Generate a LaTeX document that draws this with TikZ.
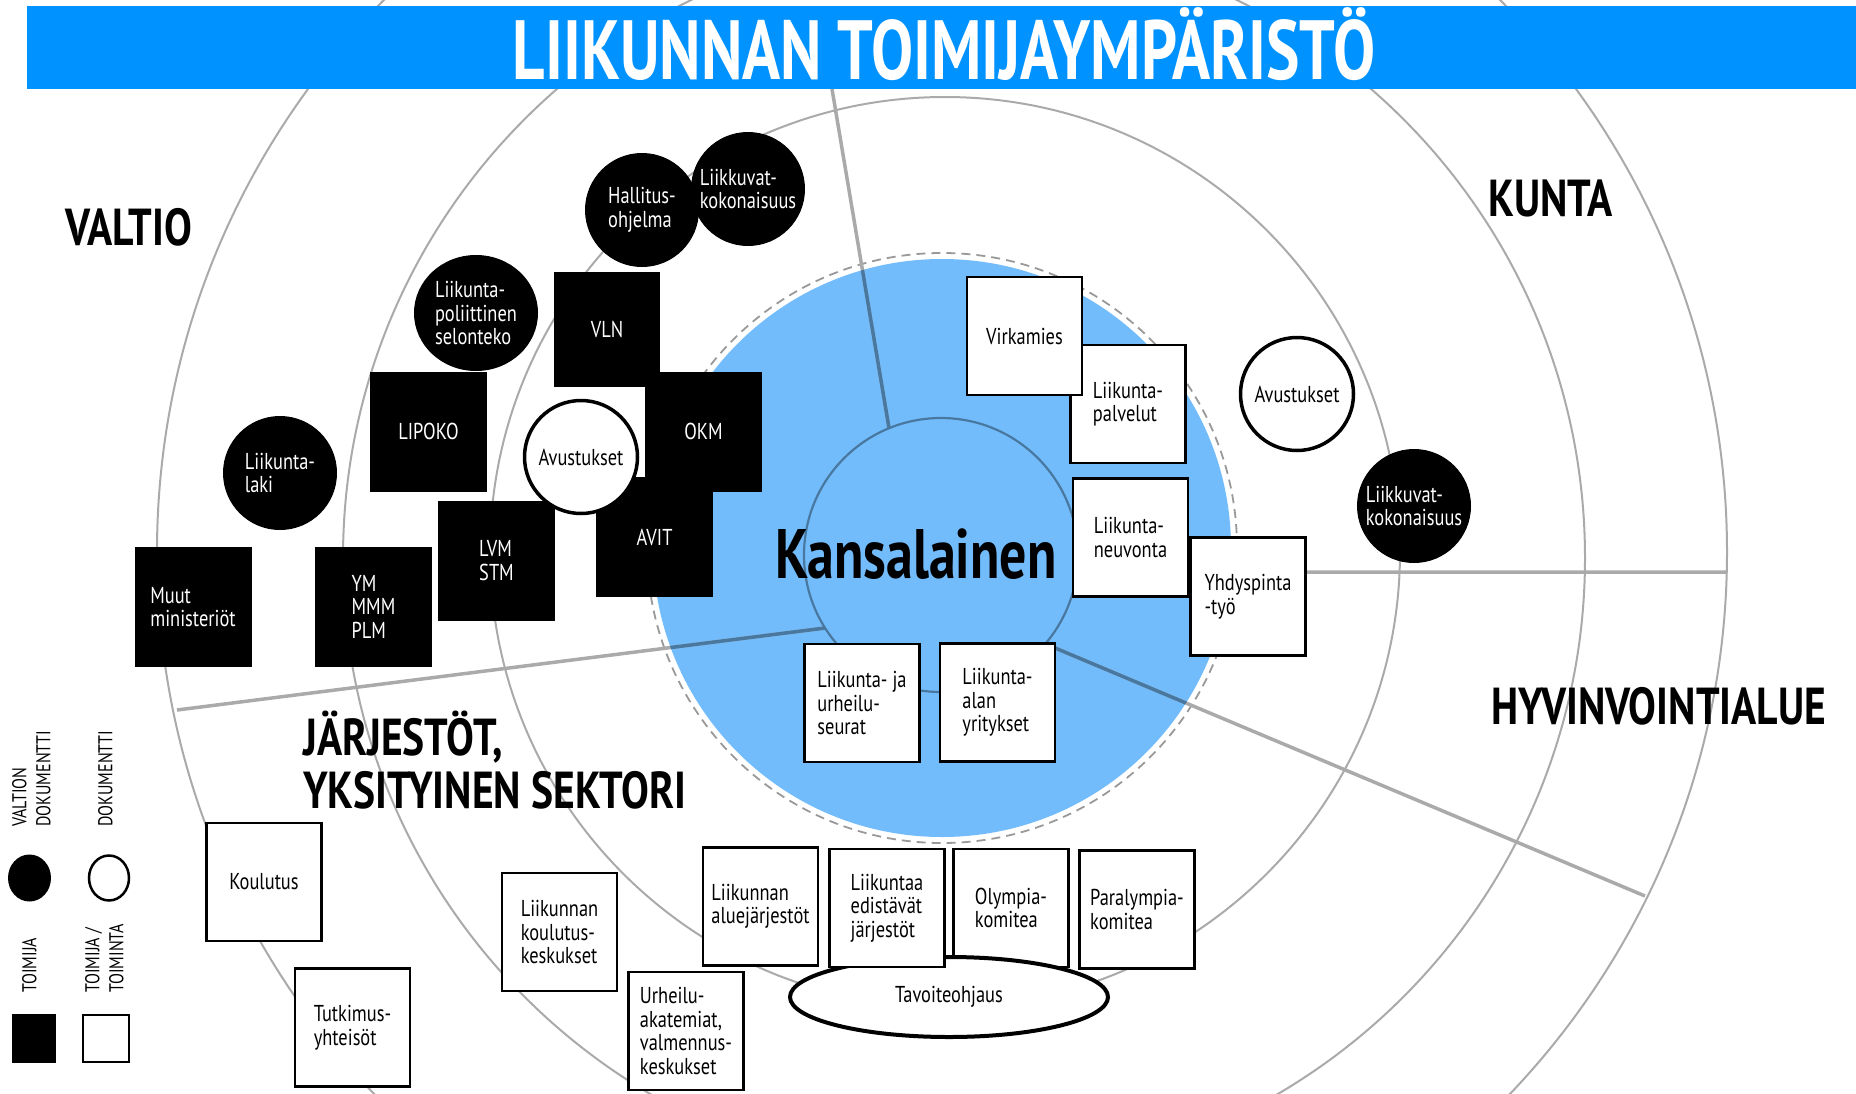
\documentclass[tikz,border=0pt]{standalone}
\usepackage{fontspec}
\setmainfont{PT Sans}[FakeStretch=0.8]
\newfontfamily\condfont{PT Sans}[FakeStretch=0.80]
\newfontfamily\titlefont{PT Sans}[FakeStretch=0.75]
\newfontfamily\kansfont{PT Sans}[FakeStretch=0.77]
\usetikzlibrary{shapes.geometric}
\definecolor{titleblue}{RGB}{0,146,255}
\definecolor{discblue}{RGB}{115,188,252}
\definecolor{ringgray}{RGB}{170,170,170}
\definecolor{steel}{RGB}{72,120,160}
\begin{document}
\begin{tikzpicture}[x=1pt,y=-1pt,
  txt/.style={font=\fontsize{23}{23.5}\selectfont, align=left, inner sep=0pt},
  wbox/.style={txt, draw=black, line width=2.5pt, fill=white, minimum width=115pt, minimum height=118pt},
  bbox/.style={txt, fill=black, text=white, minimum width=117pt, minimum height=120pt},
  bcirc/.style={txt, circle, fill=black, text=white, minimum size=114pt},
  wcirc/.style={txt, circle, draw=black, line width=3.5pt, fill=white, minimum size=113pt},
  region/.style={font=\condfont\bfseries\fontsize{52}{55}\selectfont, anchor=base west, inner sep=0pt},
  ring/.style={draw=ringgray, line width=2pt},
  divider/.style={line width=3.5pt, draw=ringgray},
  legtext/.style={font=\fontsize{20}{24}\selectfont, align=left, inner sep=0pt, rotate=90, anchor=north west},
]
\useasboundingbox (0,0) rectangle (1856,1093);
\clip (0,0) rectangle (1856,1093);

% rings
\draw[ring] (942,552) circle[radius=785pt];
\draw[ring] (964,558) circle[radius=621pt];
\draw[ring] (945,552) circle[radius=455pt];

% blue disc
\fill[discblue] (942,548) circle[radius=289pt];
\draw[ringgray!90!black, line width=1.8pt, dash pattern=on 9pt off 6pt] (942,548) circle[radius=295pt];

% dividers
\coordinate (t1) at (832,89); \coordinate (t2) at (889,428);
\coordinate (l1) at (177,710); \coordinate (l2) at (825,628);
\coordinate (r1) at (1078,572); \coordinate (r2) at (1727,572);
\coordinate (d1) at (1048,645); \coordinate (d2) at (1645,896);
\draw[divider] (t1)--(t2) (l1)--(l2) (r1)--(r2) (d1)--(d2);
\begin{scope}
  \clip (942,548) circle[radius=289pt];
  \draw[divider, draw=steel] (t1)--(t2) (l1)--(l2) (d1)--(d2);
\end{scope}
\draw[steel, line width=2.2pt] (941,555) circle[radius=137pt];

\node[font=\kansfont\bfseries\fontsize{70}{70}\selectfont, anchor=base, inner sep=0pt] (kans) at (916,578) {Kansalainen};

% title
\node[fill=titleblue, minimum width=1829pt, minimum height=83pt, anchor=north west, inner sep=0pt] (bar) at (27,6) {};
\node[font=\titlefont\bfseries\fontsize{84}{84}\selectfont, text=white, anchor=base, inner sep=0pt] (title) at (944,79) {LIIKUNNAN TOIMIJAYMPÄRISTÖ};

% region labels
\node[region] (valtio) at (65,245) {VALTIO};
\node[region] (kunta) at (1488,216) {KUNTA};
\node[region] (hyv) at (1491,724) {HYVINVOINTIALUE};
\node[region] (jar1) at (303,755) {JÄRJESTÖT,};
\node[region] (jar2) at (303,808) {YKSITYINEN SEKTORI};

% state documents and actors
\node[bcirc] (hall) at (642,210) {Hallitus-\\ohjelma};
\node[bcirc] (liik1) at (748,189) {Liikkuvat-\\kokonaisuus};
\node[txt, ellipse, fill=black, text=white, minimum width=124pt, minimum height=116pt] (selon) at (476,313) {Liikunta-\\poliittinen\\selonteko};
\node[bcirc] (laki) at (280,473) {Liikunta-\\laki};
\node[bcirc] (liik2) at (1414,506) {Liikkuvat-\\kokonaisuus};

\node[bbox, minimum width=106pt, minimum height=115pt] (vln) at (607,329.5) {VLN};
\node[bbox] (lipoko) at (428.5,431.5) {LIPOKO};
\node[bbox] (okm) at (703.5,431.5) {OKM};
\node[bbox] (avit) at (654.5,537) {AVIT};
\node[bbox] (lvm) at (496.5,560.5) {LVM\\STM};
\node[bbox] (ym) at (373.5,606.5) {YM\\MMM\\PLM};
\node[bbox] (muut) at (193,607) {Muut\\ministeriöt};
\node[wcirc] (avu1) at (581,457) {Avustukset};

% municipality
\node[wbox] (palv) at (1128,404) {Liikunta-\\palvelut};
\node[wbox] (virk) at (1024.5,336) {Virkamies};
\node[wbox] (neuv) at (1130.5,537.5) {Liikunta-\\neuvonta};
\node[wbox] (yhd) at (1248,596.5) {Yhdyspinta\\-työ};
\node[wcirc] (avu2) at (1297,394) {Avustukset};

% organisations
\node[wbox] (seurat) at (862,703) {Liikunta- ja\\urheilu-\\seurat};
\node[wbox] (yrit) at (997.5,702.5) {Liikunta-\\alan\\yritykset};
\node[wbox] (koul) at (264,882) {Koulutus};
\node[wbox] (tutk) at (352.5,1027.5) {Tutkimus-\\yhteisöt};
\node[wbox] (kkesk) at (559.5,932) {Liikunnan\\koulutus-\\keskukset};
\node[wbox] (urh) at (686,1031) {Urheilu-\\akatemiat,\\valmennus-\\keskukset};
\node[wbox] (alue) at (760.5,906.5) {Liikunnan\\aluejärjestöt};
\node[wbox] (olym) at (1011,908) {Olympia-\\komitea};
\node[txt, ellipse, draw=black, line width=4pt, fill=white, minimum width=318pt, minimum height=80pt] (tavo) at (949,997) {Tavoiteohjaus};
\node[wbox] (edis) at (887,908) {Liikuntaa\\edistävät\\järjestöt};
\node[wbox] (para) at (1137,909.5) {Paralympia-\\komitea};

% legend
\node[legtext] (lt1) at (12,827) {VALTION\\DOKUMENTTI};
\node[legtext] (lt2) at (98,827) {DOKUMENTTI};
\node[legtext] (lt3) at (22,993) {TOIMIJA};
\node[legtext] (lt4) at (85,993) {TOIMIJA /\\TOIMINTA};
\node[ellipse, fill=black, minimum width=43pt, minimum height=47pt, inner sep=0pt] (lgc1) at (29.5,878) {};
\node[ellipse, draw=black, line width=2.5pt, fill=white, minimum width=40pt, minimum height=45pt, inner sep=0pt] (lgc2) at (109,878) {};
\node[fill=black, minimum width=44pt, minimum height=49pt, inner sep=0pt] (lgs1) at (34,1038.5) {};
\node[draw=black, line width=2.5pt, fill=white, minimum width=46pt, minimum height=47pt, inner sep=0pt] (lgs2) at (106,1038.5) {};
\end{tikzpicture}
\end{document}
